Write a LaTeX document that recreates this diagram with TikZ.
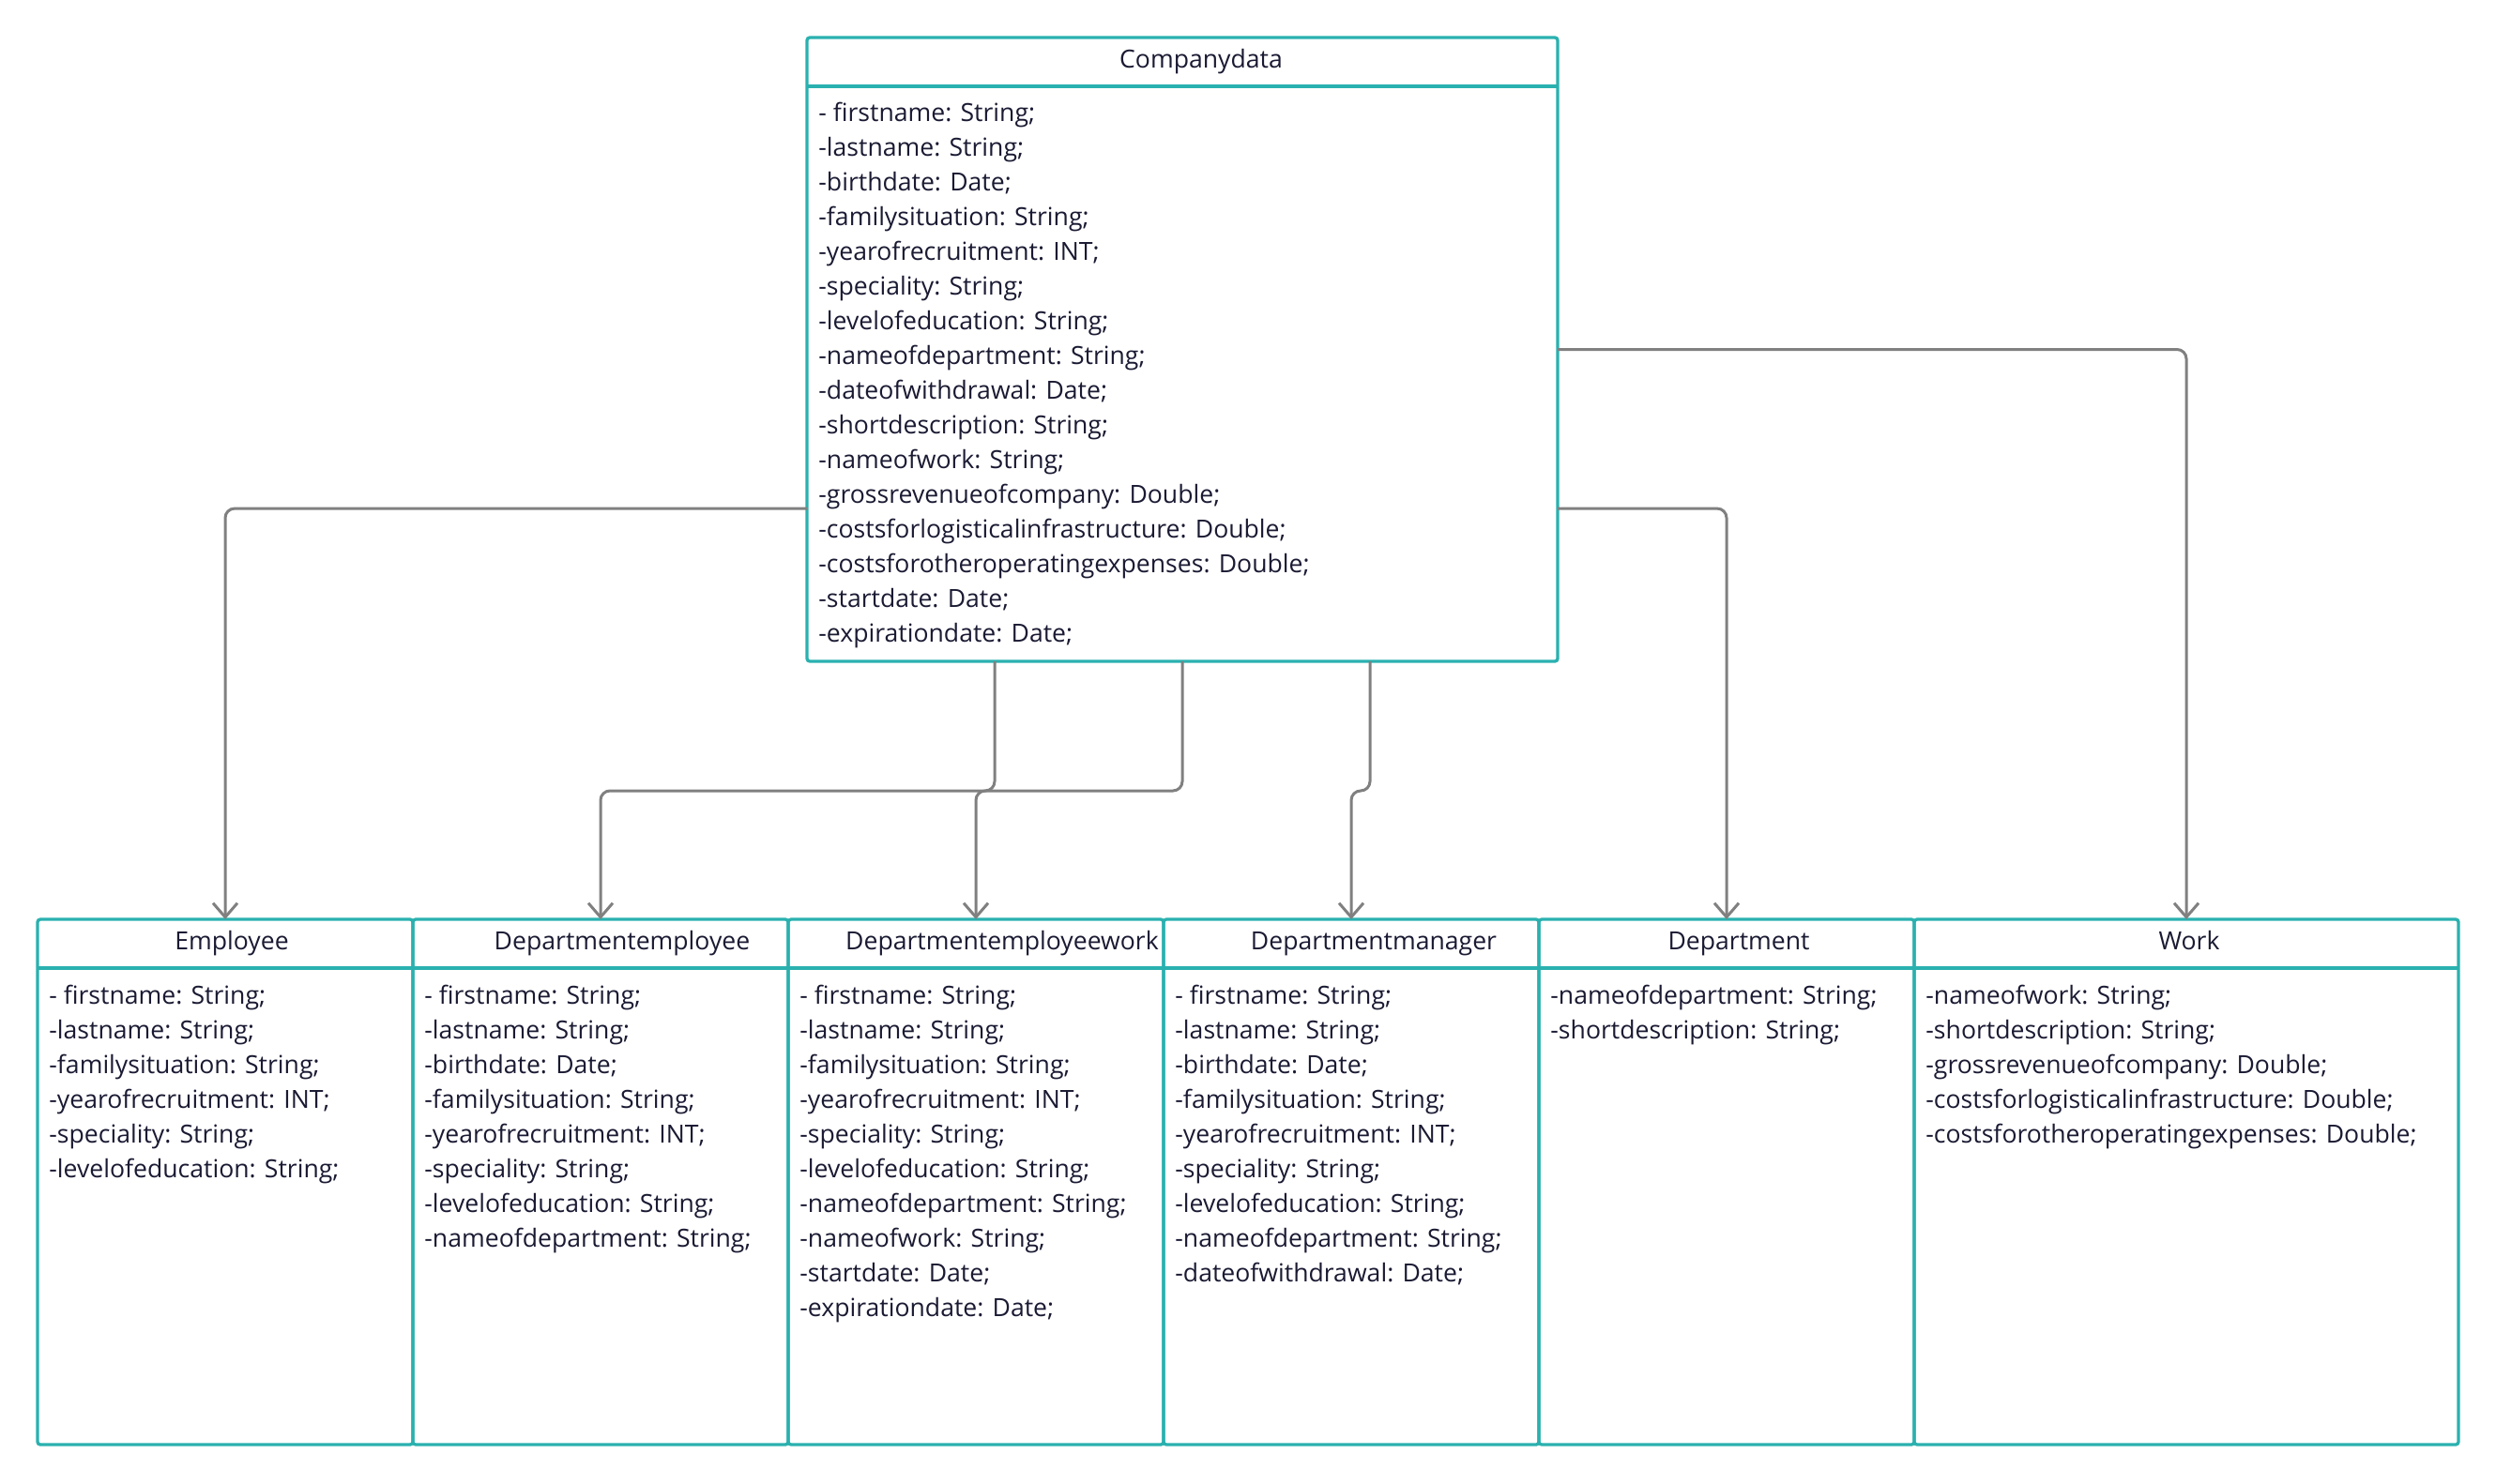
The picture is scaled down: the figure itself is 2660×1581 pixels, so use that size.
\documentclass[tikz,border=0pt]{standalone}
\usepackage{fontspec}
\setmainfont{Open Sans}
\usetikzlibrary{arrows.meta,calc}
\definecolor{boxteal}{HTML}{2AB1AF}
\definecolor{linkgray}{HTML}{808080}
\definecolor{inkblue}{HTML}{1A1A33}
\tikzset{
  classbox/.style={draw=boxteal, line width=1.65pt, rounded corners=1.5pt, inner sep=0pt, outer sep=0pt, anchor=north west},
  divider/.style={draw=boxteal, line width=1.65pt},
  classname/.style={text=inkblue, font=\fontsize{13.3}{16}\selectfont, inner sep=0pt, text height=9.6pt, text depth=3.2pt},
  attrlist/.style={text=inkblue, font=\fontsize{13.3}{18.5}\selectfont, align=left, anchor=north west, inner sep=0pt},
  link/.style={draw=linkgray, line width=1.5pt, rounded corners=5pt, -{Straight Barb[length=7.5pt,width=13pt]}},
}
\begin{document}
\begin{tikzpicture}[x=0.5pt,y=-0.5pt]
  \useasboundingbox (0,0) rectangle (2660,1581);
  % source class
  \node[classbox, minimum width=400pt, minimum height=332.5pt] (cd) at (860,40) {};
  \draw[divider] ([yshift=-26pt]cd.north west) -- ([yshift=-26pt]cd.north east);
  \node[classname] (cdname) at ([xshift=10pt,yshift=-13pt]cd.north) {Companydata};
  \node[attrlist] (cdattr) at ([xshift=6pt,yshift=-34.5pt]cd.north west) {- firstname: String;\\-lastname: String;\\-birthdate: Date;\\-familysituation: String;\\-yearofrecruitment: INT;\\-speciality: String;\\-levelofeducation: String;\\-nameofdepartment: String;\\-dateofwithdrawal: Date;\\-shortdescription: String;\\-nameofwork: String;\\-grossrevenueofcompany: Double;\\-costsforlogisticalinfrastructure: Double;\\-costsforotheroperatingexpenses: Double;\\-startdate: Date;\\-expirationdate: Date;};
  % target classes
  \node[classbox, minimum width=200pt, minimum height=280pt] (emp) at (40,980) {};
  \node[classbox, minimum width=200pt, minimum height=280pt] (demp) at (440,980) {};
  \node[classbox, minimum width=200pt, minimum height=280pt] (dew) at (840,980) {};
  \node[classbox, minimum width=200pt, minimum height=280pt] (mgr) at (1240,980) {};
  \node[classbox, minimum width=200pt, minimum height=280pt] (dept) at (1640,980) {};
  \node[classbox, minimum width=290pt, minimum height=280pt] (work) at (2040,980) {};
  \foreach \n in {emp,demp,dew,mgr,dept,work}
    \draw[divider] ([yshift=-26pt]\n.north west) -- ([yshift=-26pt]\n.north east);
  % class names
  \node[classname] (empname) at ([xshift=3.5pt,yshift=-13pt]emp.north) {Employee};
  \node[classname] (dempname) at ([xshift=11.5pt,yshift=-13pt]demp.north) {Departmentemployee};
  \node[classname] (dewname) at ([xshift=14pt,yshift=-13pt]dew.north) {Departmentemployeework};
  \node[classname] (mgrname) at ([xshift=12pt,yshift=-13pt]mgr.north) {Departmentmanager};
  \node[classname] (deptname) at ([xshift=6.5pt,yshift=-13pt]dept.north) {Department};
  \node[classname] (workname) at ([xshift=1.5pt,yshift=-13pt]work.north) {Work};
  % attributes
  \node[attrlist] (empattr) at ([xshift=6pt,yshift=-35pt]emp.north west) {- firstname: String;\\-lastname: String;\\-familysituation: String;\\-yearofrecruitment: INT;\\-speciality: String;\\-levelofeducation: String;};
  \node[attrlist] (dempattr) at ([xshift=6pt,yshift=-35pt]demp.north west) {- firstname: String;\\-lastname: String;\\-birthdate: Date;\\-familysituation: String;\\-yearofrecruitment: INT;\\-speciality: String;\\-levelofeducation: String;\\-nameofdepartment: String;};
  \node[attrlist] (dewattr) at ([xshift=6pt,yshift=-35pt]dew.north west) {- firstname: String;\\-lastname: String;\\-familysituation: String;\\-yearofrecruitment: INT;\\-speciality: String;\\-levelofeducation: String;\\-nameofdepartment: String;\\-nameofwork: String;\\-startdate: Date;\\-expirationdate: Date;};
  \node[attrlist] (mgrattr) at ([xshift=6pt,yshift=-35pt]mgr.north west) {- firstname: String;\\-lastname: String;\\-birthdate: Date;\\-familysituation: String;\\-yearofrecruitment: INT;\\-speciality: String;\\-levelofeducation: String;\\-nameofdepartment: String;\\-dateofwithdrawal: Date;};
  \node[attrlist] (deptattr) at ([xshift=6pt,yshift=-35pt]dept.north west) {-nameofdepartment: String;\\-shortdescription: String;};
  \node[attrlist] (workattr) at ([xshift=6pt,yshift=-35pt]work.north west) {-nameofwork: String;\\-shortdescription: String;\\-grossrevenueofcompany: Double;\\-costsforlogisticalinfrastructure: Double;\\-costsforotheroperatingexpenses: Double;};
  % connectors
  \draw[link] ($(cd.north west)!0.755!(cd.south west)$) -| (emp.north);
  \draw[link] (cd.south) -- ++(0,138) -| (demp.north);
  \draw[link] ($(cd.south west)!0.25!(cd.south east)$) -- ++(0,138) -| (dew.north);
  \draw[link] ($(cd.south west)!0.75!(cd.south east)$) -- ++(0,138) -| (mgr.north);
  \draw[link] ($(cd.north east)!0.755!(cd.south east)$) -| (dept.north);
  \draw[link] (cd.east) -| (work.north);
\end{tikzpicture}
\end{document}
